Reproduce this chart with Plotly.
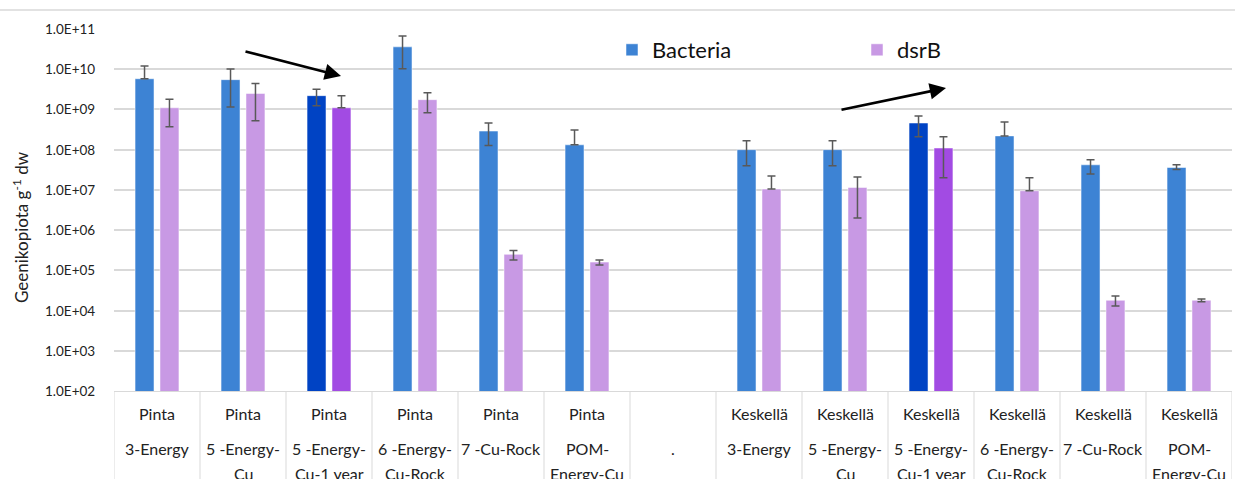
import math
import plotly.graph_objects as go

# ---------------- data ----------------
sites = ["Pinta"] * 6 + [""] + ["Keskellä"] * 6
treatments = ["3-Energy", "5 -Energy-<br>Cu", "5 -Energy-<br>Cu-1 year", "6 -Energy-<br>Cu-Rock",
              "7 -Cu-Rock", "POM-<br>Energy-Cu", ".",
              "3-Energy", "5 -Energy-<br>Cu", "5 -Energy-<br>Cu-1 year", "6 -Energy-<br>Cu-Rock",
              "7 -Cu-Rock", "POM-<br>Energy-Cu"]

bacteria = [5.8e9, 5.5e9, 2.2e9, 3.6e10, 2.9e8, 1.32e8, None, 1.0e8, 1.0e8, 4.6e8, 2.2e8, 4.2e7, 3.6e7]
bacteria_upper = [1.2e10, 1.02e10, 3.2e9, 6.7e10, 4.6e8, 3.1e8, None, 1.67e8, 1.67e8, 6.9e8, 4.9e8, 5.6e7, 4.2e7]
bacteria_lower = [5.8e9, 1.15e9, 1.23e9, 1.03e10, 1.27e8, 1.32e8, None, 4.0e7, 4.0e7, 2.1e8, 2.2e8, 2.5e7, 3.2e7]

dsrb = [1.1e9, 2.5e9, 1.1e9, 1.75e9, 2.5e5, 1.6e5, None, 1.05e7, 1.15e7, 1.1e8, 9.5e6, 1.8e4, 1.8e4]
dsrb_upper = [1.8e9, 4.4e9, 2.2e9, 2.6e9, 3.1e5, 1.8e5, None, 2.2e7, 2.1e7, 2.1e8, 2.0e7, 2.3e4, 1.95e4]
dsrb_lower = [3.7e8, 5.2e8, 1.1e9, 8.3e8, 1.8e5, 1.35e5, None, 1.05e7, 2.0e6, 2.0e7, 9.5e6, 1.3e4, 1.65e4]

highlight = [2, 9]  # "5 -Energy-Cu-1 year" columns

y_tickvals = [1e2, 1e3, 1e4, 1e5, 1e6, 1e7, 1e8, 1e9, 1e10, 1e11]
y_ticktext = ["1.0E+02", "1.0E+03", "1.0E+04", "1.0E+05", "1.0E+06",
              "1.0E+07", "1.0E+08", "1.0E+09", "1.0E+10", "1.0E+11"]

# ---------------- style ----------------
FONT = "Lato"
C_BAC, C_BAC_HI = "#3d83d4", "#0043c4"
C_DSR, C_DSR_HI = "#c899e4", "#a24be3"
GRID = "#d9d9d9"
ERR = "#595959"

n = len(sites)
xs = list(range(n))


def errs(vals, up, lo):
    plus = [None if v is None else u - v for v, u in zip(vals, up)]
    minus = [None if v is None else v - l for v, l in zip(vals, lo)]
    return plus, minus


bp, bm = errs(bacteria, bacteria_upper, bacteria_lower)
dp, dm = errs(dsrb, dsrb_upper, dsrb_lower)

fig = go.Figure()
fig.add_trace(go.Bar(
    x=xs, y=bacteria, name="Bacteria",
    marker=dict(color=[C_BAC_HI if i in highlight else C_BAC for i in xs],
                line=dict(width=1, color="rgba(255,255,255,0.5)")),
    error_y=dict(type="data", symmetric=False, array=bp, arrayminus=bm,
                 color=ERR, thickness=1.5, width=4),
))
fig.add_trace(go.Bar(
    x=xs, y=dsrb, name="dsrB",
    marker=dict(color=[C_DSR_HI if i in highlight else C_DSR for i in xs],
                line=dict(width=1, color="rgba(255,255,255,0.5)")),
    error_y=dict(type="data", symmetric=False, array=dp, arrayminus=dm,
                 color=ERR, thickness=1.5, width=4),
))

L, R, T, B = 114, 3, 29, 88
W, H = 1235, 479
pw, ph = W - L - R, H - T - B


def px_x(px):
    return (px - L) / pw


def px_y(py):
    return (H - B - py) / ph


shapes = []
# vertical category separators in the label area
for i in range(n + 1):
    shapes.append(dict(type="line", xref="x", yref="paper", x0=i - 0.5, x1=i - 0.5,
                       y0=0, y1=px_y(482), line=dict(color=GRID, width=1)))
# top border line
shapes.append(dict(type="line", xref="paper", yref="paper", x0=px_x(0), x1=px_x(W),
                   y0=px_y(10), y1=px_y(10), line=dict(color=GRID, width=1.5)))

annotations = []
# y tick labels
for v, t in zip(y_tickvals, y_ticktext):
    annotations.append(dict(x=px_x(97), xref="paper", y=math.log10(v), yref="y", text=t,
                            showarrow=False, xanchor="right", yanchor="middle",
                            font=dict(family=FONT, size=13.5, color="#222")))
# category labels
for i in xs:
    annotations.append(dict(x=i, xref="x", y=px_y(413), yref="paper", text=sites[i],
                            showarrow=False, yanchor="middle", xanchor="center",
                            font=dict(family=FONT, size=16, color="#222")))
    for k, line in enumerate(treatments[i].split("<br>")):
        annotations.append(dict(x=i, xref="x", y=px_y(448 + 26 * k), yref="paper", text=line,
                                showarrow=False, yanchor="middle", xanchor="center",
                                font=dict(family=FONT, size=16, color="#222")))

# y axis title
annotations.append(dict(x=px_x(20), xref="paper", y=px_y(227), yref="paper",
                        text="Geenikopiota g<sup>-1</sup> dw", textangle=-90, showarrow=False,
                        xanchor="center", yanchor="middle",
                        font=dict(family=FONT, size=17, color="#222")))

# arrows
annotations.append(dict(x=px_x(341), y=px_y(76), xref="paper", yref="paper",
                        ax=244 - 341, ay=51 - 76, axref="pixel", ayref="pixel",
                        showarrow=True, arrowhead=2, arrowsize=1.25, arrowwidth=2.6,
                        arrowcolor="black", text=""))
annotations.append(dict(x=px_x(946), y=px_y(88), xref="paper", yref="paper",
                        ax=840 - 946, ay=110 - 88, axref="pixel", ayref="pixel",
                        showarrow=True, arrowhead=2, arrowsize=1.25, arrowwidth=2.6,
                        arrowcolor="black", text=""))

fig.update_layout(
    width=W, height=H,
    margin=dict(l=L, r=R, t=T, b=B, pad=0),
    paper_bgcolor="white", plot_bgcolor="white",
    barmode="group", bargap=0.42, bargroupgap=0.24,
    font=dict(family=FONT, size=15, color="#222"),
    showlegend=True,
    legend=dict(orientation="h", x=px_x(612), y=px_y(50), xanchor="left", yanchor="middle",
                font=dict(family=FONT, size=22, color="#111"),
                entrywidth=200, entrywidthmode="pixels",
                bgcolor="rgba(0,0,0,0)", traceorder="normal"),
    shapes=shapes,
    annotations=annotations,
)
fig.update_xaxes(range=[-0.5, n - 0.5], showticklabels=False, showgrid=False,
                 zeroline=False, showline=True, linecolor=GRID, linewidth=1, ticks="")
fig.update_yaxes(type="log", range=[2, 11], tickvals=y_tickvals, showticklabels=False,
                 showgrid=True, gridcolor=GRID, gridwidth=1.5, zeroline=False,
                 showline=False, ticks="")

fig.write_html("out.html", config={"displayModeBar": False},
               post_script="document.body.style.margin='0';")
